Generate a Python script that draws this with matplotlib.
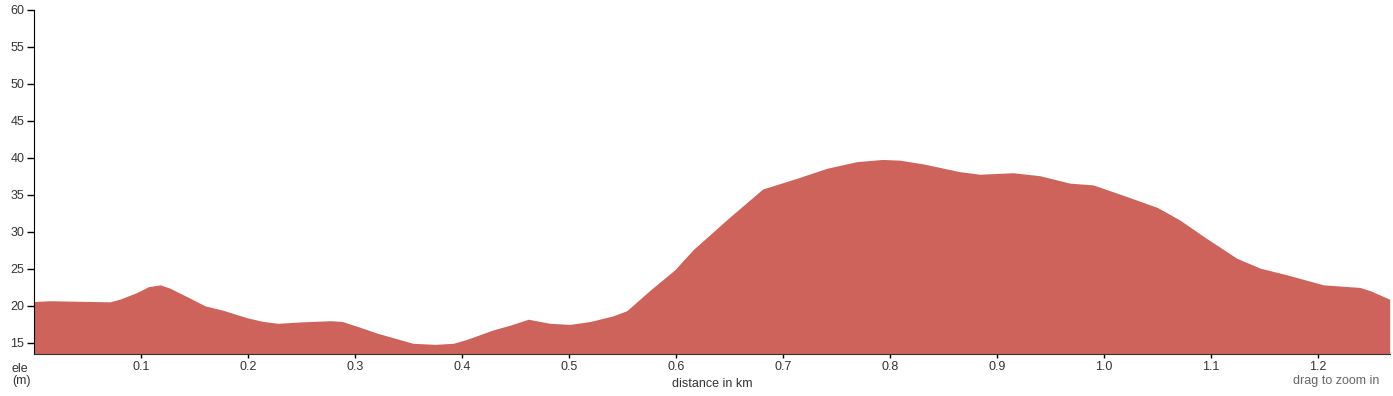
import matplotlib

matplotlib.use("Agg")
import matplotlib.pyplot as plt  # noqa: E402

plt.rcParams["font.family"] = ["Liberation Sans", "DejaVu Sans"]

# elevation profile (km, m)
distance_km = [
    0.0, 0.015, 0.071, 0.080, 0.096, 0.107, 0.118, 0.127, 0.143, 0.160,
    0.177, 0.199, 0.214, 0.228, 0.251, 0.277, 0.288, 0.305, 0.321, 0.354,
    0.375, 0.392, 0.405, 0.429, 0.445, 0.462, 0.482, 0.501, 0.520, 0.541,
    0.554, 0.576, 0.599, 0.616, 0.649, 0.660, 0.681, 0.713, 0.741, 0.769,
    0.793, 0.809, 0.831, 0.865, 0.884, 0.915, 0.940, 0.968, 0.990, 1.021,
    1.050, 1.071, 1.093, 1.124, 1.146, 1.171, 1.205, 1.239, 1.249, 1.267,
]
elevation_m = [
    20.6, 20.7, 20.55, 20.9, 21.8, 22.6, 22.85, 22.4, 21.25, 20.0,
    19.4, 18.4, 17.9, 17.65, 17.85, 18.0, 17.9, 17.1, 16.3, 14.95,
    14.8, 14.95, 15.5, 16.75, 17.4, 18.2, 17.65, 17.5, 17.9, 18.65,
    19.35, 22.15, 24.9, 27.6, 31.85, 33.2, 35.8, 37.25, 38.6, 39.5,
    39.8, 39.7, 39.2, 38.15, 37.8, 38.0, 37.6, 36.6, 36.35, 34.8,
    33.3, 31.6, 29.4, 26.45, 25.1, 24.2, 22.85, 22.5, 22.05, 20.9,
]
x_ticks = [0.1, 0.2, 0.3, 0.4, 0.5, 0.6, 0.7, 0.8, 0.9, 1.0, 1.1, 1.2]
y_ticks = [15, 20, 25, 30, 35, 40, 45, 50, 55, 60]

W, H = 1393, 396
fig = plt.figure(figsize=(W / 100, H / 100), dpi=100)
ax = fig.add_axes([34 / W, 42 / H, (1390 - 34) / W, (354 - 10) / H])

ax.fill_between(distance_km, elevation_m, 13.5, color="#cd635a", linewidth=0)

ax.set_xlim(0, 1.2673)
ax.set_ylim(13.5, 60)
ax.set_xticks(x_ticks)
ax.set_xticklabels([f"{v:.1f}" for v in x_ticks])
ax.set_yticks(y_ticks)

for side in ("top", "right"):
    ax.spines[side].set_visible(False)
ax.spines["left"].set_color("black")
ax.spines["bottom"].set_color("#333333")
ax.tick_params(axis="y", length=5, width=1, labelsize=9, labelcolor="#333333", pad=2)
ax.tick_params(axis="x", length=3, width=1, labelsize=9, labelcolor="#333333", pad=2)

fig.text(712 / W, 1 - 384 / H, "distance in km", ha="center", va="center",
         fontsize=9, color="#333333")
fig.text(12 / W, 1 - 375 / H, "ele\n(m)", ha="left", va="center",
         fontsize=9, color="#333333", linespacing=1.1)
fig.text(1379 / W, 1 - 381 / H, "drag to zoom in", ha="right", va="center",
         fontsize=9, color="#666666")

fig.savefig("out.png", dpi=100)
plt.close(fig)
